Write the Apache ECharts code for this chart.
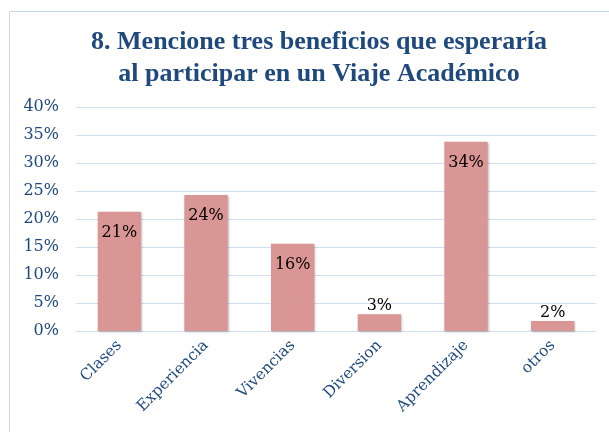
<!DOCTYPE html>
<html>
<head>
<meta charset="utf-8">
<script src="https://cdn.jsdelivr.net/npm/echarts@6/dist/echarts.min.js"></script>
<style>
  html, body { margin: 0; padding: 0; background: #fff; }
  #chart { width: 609px; height: 432px; }
</style>
</head>
<body>
<div id="chart"></div>
<script>
const categories = ['Clases', 'Experiencia', 'Vivencias', 'Diversion', 'Aprendizaje', 'otros']
const values = [21.3, 24.3, 15.6, 3.0, 33.8, 1.8]
const yTicks = [0, 5, 10, 15, 20, 25, 30, 35, 40]

const blue = '#1F497D'
const serif = '"DejaVu Serif", "Liberation Serif", serif'

const chart = echarts.init(document.getElementById('chart'))

const option = {
  animation: false,
  graphic: [{
    type: 'rect',
    shape: { x: 9.5, y: 11.5, width: 640, height: 460 },
    style: { fill: 'none', stroke: '#C9DAEE', lineWidth: 1 }
  }],
  title: {
    text: '8. Mencione tres beneficios que esperaría\nal participar en un Viaje Académico',
    // with textAlign center, left is the centre point of the title
    left: 314,
    top: 21,
    textAlign: 'center',
    textStyle: {
      fontFamily: '"Liberation Serif", serif',
      fontWeight: 'bold',
      fontSize: 26,
      lineHeight: 32,
      color: blue
    }
  },
  grid: { left: 76, right: 13, top: 107, bottom: 101 },
  xAxis: {
    type: 'category',
    data: categories,
    axisLine: { show: true, lineStyle: { color: '#D0DDEE' } },
    axisTick: { show: false },
    axisLabel: {
      rotate: 45,
      interval: 0,
      margin: 12,
      color: blue,
      fontFamily: serif,
      fontSize: 15.5
    }
  },
  yAxis: {
    type: 'value',
    min: 0,
    max: 40,
    interval: 5,
    axisLine: { show: false },
    axisTick: { show: false },
    splitLine: { lineStyle: { color: '#D0DDEE', width: 1 } },
    axisLabel: {
      margin: 17,
      color: blue,
      fontFamily: serif,
      fontSize: 16,
      formatter: v => yTicks.includes(v) ? v + '%' : ''
    }
  },
  series: [{
    type: 'bar',
    barWidth: '50%',
    data: values.map(v => ({
      value: v,
      label: v < 5 ? { position: 'top', distance: 0 } : { position: 'insideTop', distance: 13 }
    })),
    itemStyle: {
      color: '#D99694',
      shadowColor: 'rgba(0,0,0,0.25)',
      shadowBlur: 2,
      shadowOffsetX: 1,
      shadowOffsetY: 1
    },
    label: {
      show: true,
      color: '#000',
      fontFamily: serif,
      fontSize: 16,
      formatter: p => Math.round(p.value) + '%'
    }
  }]
}

chart.setOption(option)
</script>
</body>
</html>
